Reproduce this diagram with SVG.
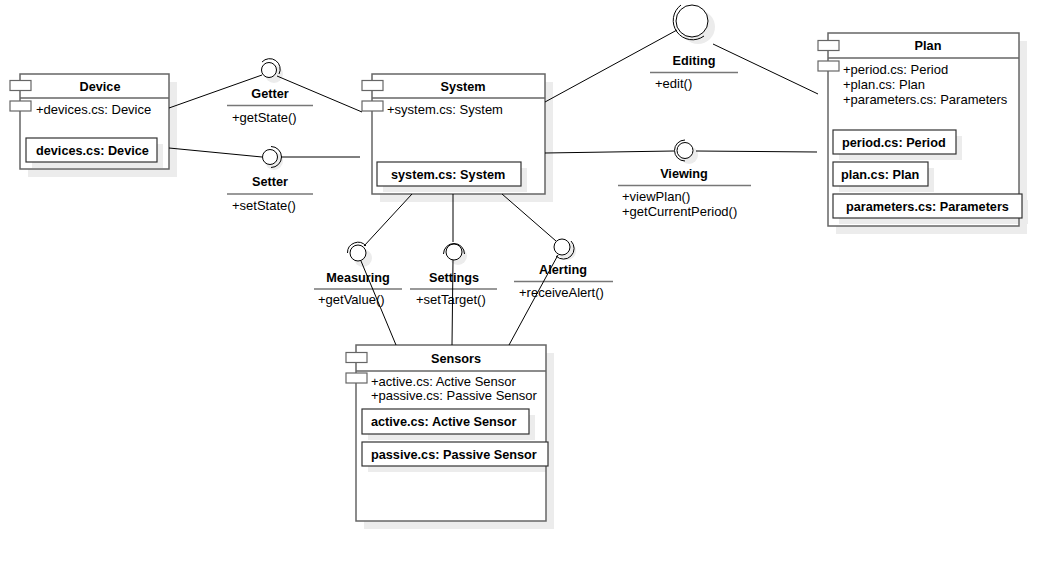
<svg xmlns="http://www.w3.org/2000/svg" width="1062" height="561" viewBox="0 0 1062 561">
<style>
text{font-family:"Liberation Sans",Arial,sans-serif;font-size:13px;fill:#000}
.b{font-weight:bold;font-size:12.7px}
.m{text-anchor:middle}
.bg{fill:#fff}
.box{fill:none;stroke:#666;stroke-width:1.5}
.sh{fill:#ececec}
.port{fill:#fff;stroke:#666;stroke-width:1.2}
.div{stroke:#666;stroke-width:1.5}
.inner{fill:#fff;stroke:#333;stroke-width:1.2}
.ul{stroke:#777;stroke-width:1.5}
.ball{fill:#fff;stroke:#000;stroke-width:1}
.sock{fill:none;stroke:#000;stroke-width:1}
.csh{fill:#ececec}
#connectors line{stroke:#000;stroke-width:1}
</style>
<rect width="1062" height="561" fill="#fff"/>
<g id="device">
<rect class="sh" x="28" y="82" width="149" height="95"/>
<rect class="bg" x="20" y="74" width="149" height="95"/>
<rect class="sh" x="32" y="144" width="131" height="24"/>
<rect class="box" x="20" y="74" width="149" height="95"/>
<line class="div" x1="20" y1="98" x2="169" y2="98"/>
<rect class="port" x="10" y="80.5" width="21" height="10"/>
<rect class="port" x="10" y="101" width="21" height="10"/>
<text class="b m" x="100" y="91">Device</text>
<text x="36" y="114">+devices.cs: Device</text>
<rect class="inner" x="26" y="138" width="131" height="24"/>
<text class="b" x="36" y="155">devices.cs: Device</text>
</g>
<g id="system">
<rect class="sh" x="380" y="82" width="173" height="120"/>
<rect class="bg" x="372" y="74" width="173" height="120"/>
<rect class="sh" x="383" y="168" width="144" height="24"/>
<rect class="box" x="372" y="74" width="173" height="120"/>
<line class="div" x1="372" y1="98" x2="545" y2="98"/>
<rect class="port" x="362" y="80.5" width="21" height="10"/>
<rect class="port" x="362" y="101" width="21" height="10"/>
<text class="b m" x="463" y="91">System</text>
<text x="387" y="114">+system.cs: System</text>
<rect class="inner" x="377" y="162" width="144" height="24"/>
<text class="b" x="391" y="179">system.cs: System</text>
</g>
<g id="plan">
<rect class="sh" x="836" y="41" width="191" height="193"/>
<rect class="bg" x="828" y="33" width="191" height="193"/>
<rect class="sh" x="839" y="136" width="123" height="24"/>
<rect class="sh" x="839" y="168" width="95" height="24"/>
<rect class="sh" x="839" y="200" width="189" height="24"/>
<rect class="box" x="828" y="33" width="191" height="193"/>
<line class="div" x1="828" y1="58" x2="1019" y2="58"/>
<rect class="port" x="818" y="40.5" width="21" height="10"/>
<rect class="port" x="818" y="61" width="21" height="10"/>
<text class="b m" x="928" y="50">Plan</text>
<text x="843" y="74">+period.cs: Period</text>
<text x="843" y="89">+plan.cs: Plan</text>
<text x="843" y="104">+parameters.cs: Parameters</text>
<rect class="inner" x="833" y="130" width="123" height="24"/>
<text class="b" x="842" y="147">period.cs: Period</text>
<rect class="inner" x="833" y="162" width="95" height="24"/>
<text class="b" x="841" y="179">plan.cs: Plan</text>
<rect class="inner" x="833" y="194" width="189" height="24"/>
<text class="b" x="846" y="211">parameters.cs: Parameters</text>
</g>
<g id="sensors">
<rect class="sh" x="364" y="353" width="190" height="176"/>
<rect class="bg" x="356" y="345" width="190" height="176"/>
<rect class="sh" x="368" y="415" width="167" height="25"/>
<rect class="sh" x="368" y="448" width="186" height="24"/>
<rect class="box" x="356" y="345" width="190" height="176"/>
<line class="div" x1="356" y1="371" x2="546" y2="371"/>
<rect class="port" x="346" y="352.5" width="21" height="10"/>
<rect class="port" x="346" y="373" width="21" height="10"/>
<text class="b m" x="456" y="363">Sensors</text>
<text x="371" y="386">+active.cs: Active Sensor</text>
<text x="371" y="400">+passive.cs: Passive Sensor</text>
<rect class="inner" x="362" y="409" width="167" height="25"/>
<text class="b" x="371" y="426">active.cs: Active Sensor</text>
<rect class="inner" x="362" y="442" width="186" height="24"/>
<text class="b" x="371" y="459">passive.cs: Passive Sensor</text>
</g>
<g id="getter">
<circle class="csh" cx="274" cy="74" r="9"/>
<circle class="ball" cx="269" cy="70" r="7.5"/>
<path class="sock" d="M262 62 A10.5 10.5 0 0 1 279 74"/>
<text class="b m" x="270" y="98">Getter</text>
<line class="ul" x1="227" y1="105.5" x2="313" y2="105.5"/>
<text x="232" y="122">+getState()</text>
</g>
<g id="setter">
<circle class="csh" cx="274" cy="161" r="9"/>
<circle class="ball" cx="270" cy="157" r="7.5"/>
<path class="sock" d="M271 146.5 A10.5 10.5 0 0 1 271 167.5"/>
<text class="b m" x="270" y="186">Setter</text>
<line class="ul" x1="227" y1="194" x2="313" y2="194"/>
<text x="232" y="210">+setState()</text>
</g>
<g id="editing">
<circle class="csh" cx="698" cy="27" r="17"/>
<circle class="ball" cx="692" cy="21" r="16"/>
<path class="sock" d="M681 5 A19 19 0 0 0 704 36"/>
<text class="b m" x="694" y="65">Editing</text>
<line class="ul" x1="650" y1="72.5" x2="738" y2="72.5"/>
<text x="655" y="88">+edit()</text>
</g>
<g id="viewing">
<circle class="csh" cx="689" cy="155" r="9"/>
<circle class="ball" cx="685" cy="150.5" r="8"/>
<path class="sock" d="M685 140 A10.5 10.5 0 0 0 685 161"/>
<text class="b m" x="684" y="178">Viewing</text>
<line class="ul" x1="618" y1="185.5" x2="751" y2="185.5"/>
<text x="622" y="201">+viewPlan()</text>
<text x="622" y="216">+getCurrentPeriod()</text>
</g>
<g id="measuring">
<circle class="csh" cx="363" cy="258" r="9"/>
<circle class="ball" cx="358" cy="253" r="8"/>
<path class="sock" d="M347.5 253 A10.5 10.5 0 0 1 366 246"/>
<text class="b m" x="358" y="282">Measuring</text>
<line class="ul" x1="314" y1="289" x2="402" y2="289"/>
<text x="318" y="304">+getValue()</text>
</g>
<g id="settings">
<circle class="csh" cx="458" cy="256" r="9"/>
<circle class="ball" cx="454" cy="252" r="8"/>
<path class="sock" d="M443.5 254 A10.5 10.5 0 0 1 464.5 254"/>
<text class="b m" x="454" y="282">Settings</text>
<line class="ul" x1="410" y1="289" x2="497" y2="289"/>
<text x="416" y="304">+setTarget()</text>
</g>
<g id="alerting">
<circle class="csh" cx="567" cy="251" r="9"/>
<circle class="ball" cx="562" cy="247" r="8"/>
<path class="sock" d="M571 241 A10.5 10.5 0 0 1 556 256"/>
<text class="b m" x="563" y="274">Alerting</text>
<line class="ul" x1="514" y1="281.5" x2="613" y2="281.5"/>
<text x="519" y="297">+receiveAlert()</text>
</g>
<g id="connectors">
<line x1="169" y1="108" x2="262" y2="75"/>
<line x1="277" y1="76" x2="362" y2="112"/>
<line x1="169" y1="148" x2="262" y2="157"/>
<line x1="281" y1="157" x2="360" y2="157"/>
<line x1="545" y1="102" x2="677" y2="30"/>
<line x1="713" y1="44" x2="818" y2="94"/>
<line x1="545" y1="153" x2="674" y2="151"/>
<line x1="696" y1="151" x2="817" y2="152"/>
<line x1="412" y1="194" x2="364" y2="246"/>
<line x1="361" y1="261" x2="396" y2="345"/>
<line x1="453" y1="194" x2="453" y2="242"/>
<line x1="453" y1="260" x2="452" y2="345"/>
<line x1="502" y1="194" x2="556" y2="241"/>
<line x1="558" y1="255" x2="509" y2="345"/>
</g>
</svg>
